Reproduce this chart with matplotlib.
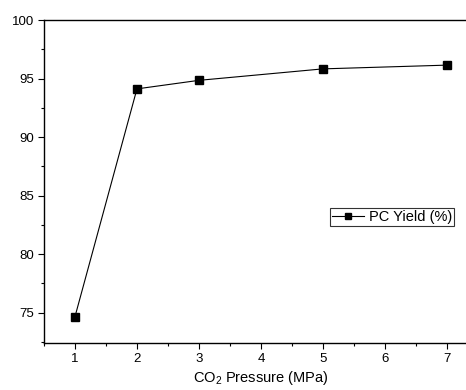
import matplotlib
matplotlib.use("Agg")
import matplotlib.pyplot as plt
from matplotlib.ticker import MultipleLocator

pressure = [1, 2, 3, 5, 7]
pc_yield = [74.65, 94.12, 94.85, 95.83, 96.15]

plt.rcParams["font.family"] = "Liberation Sans"
plt.rcParams["mathtext.fontset"] = "custom"
plt.rcParams["mathtext.rm"] = "Liberation Sans"
plt.rcParams["mathtext.it"] = "Liberation Sans:italic"

fig = plt.figure(figsize=(4.66, 3.9), dpi=100)
ax = fig.add_axes([0.0944, 0.1205, 0.931, 0.828])

ax.plot(pressure, pc_yield, color="black", linewidth=0.8,
        marker="s", markersize=5.5, label="PC Yield (%)")

ax.set_xlim(0.5, 7.5)
ax.set_ylim(72.4, 100)
ax.xaxis.set_major_locator(MultipleLocator(1))
ax.xaxis.set_minor_locator(MultipleLocator(0.5))
ax.yaxis.set_major_locator(MultipleLocator(5))
ax.yaxis.set_minor_locator(MultipleLocator(2.5))
ax.tick_params(which="major", direction="out", length=4, width=0.8,
               labelsize=9.5, top=False, right=False, pad=3)
ax.tick_params(which="minor", direction="out", length=2.5, width=0.8,
               top=False, right=False)
for s in ["left", "bottom", "top"]:
    ax.spines[s].set_linewidth(1.0)
ax.spines["right"].set_visible(False)

ax.set_xlabel(r"CO$_2$ Pressure (MPa)", fontsize=10.5, labelpad=3)

leg = ax.legend(loc="center", bbox_to_anchor=(392 / 466, 1 - 217 / 390),
                bbox_transform=fig.transFigure, fontsize=10.5, frameon=True,
                fancybox=False, handlelength=2.2, handletextpad=0.3,
                borderpad=0.15, borderaxespad=0, markerscale=0.85)
leg.get_frame().set_edgecolor("black")
leg.get_frame().set_linewidth(0.8)

fig.savefig("out.png", dpi=100)
